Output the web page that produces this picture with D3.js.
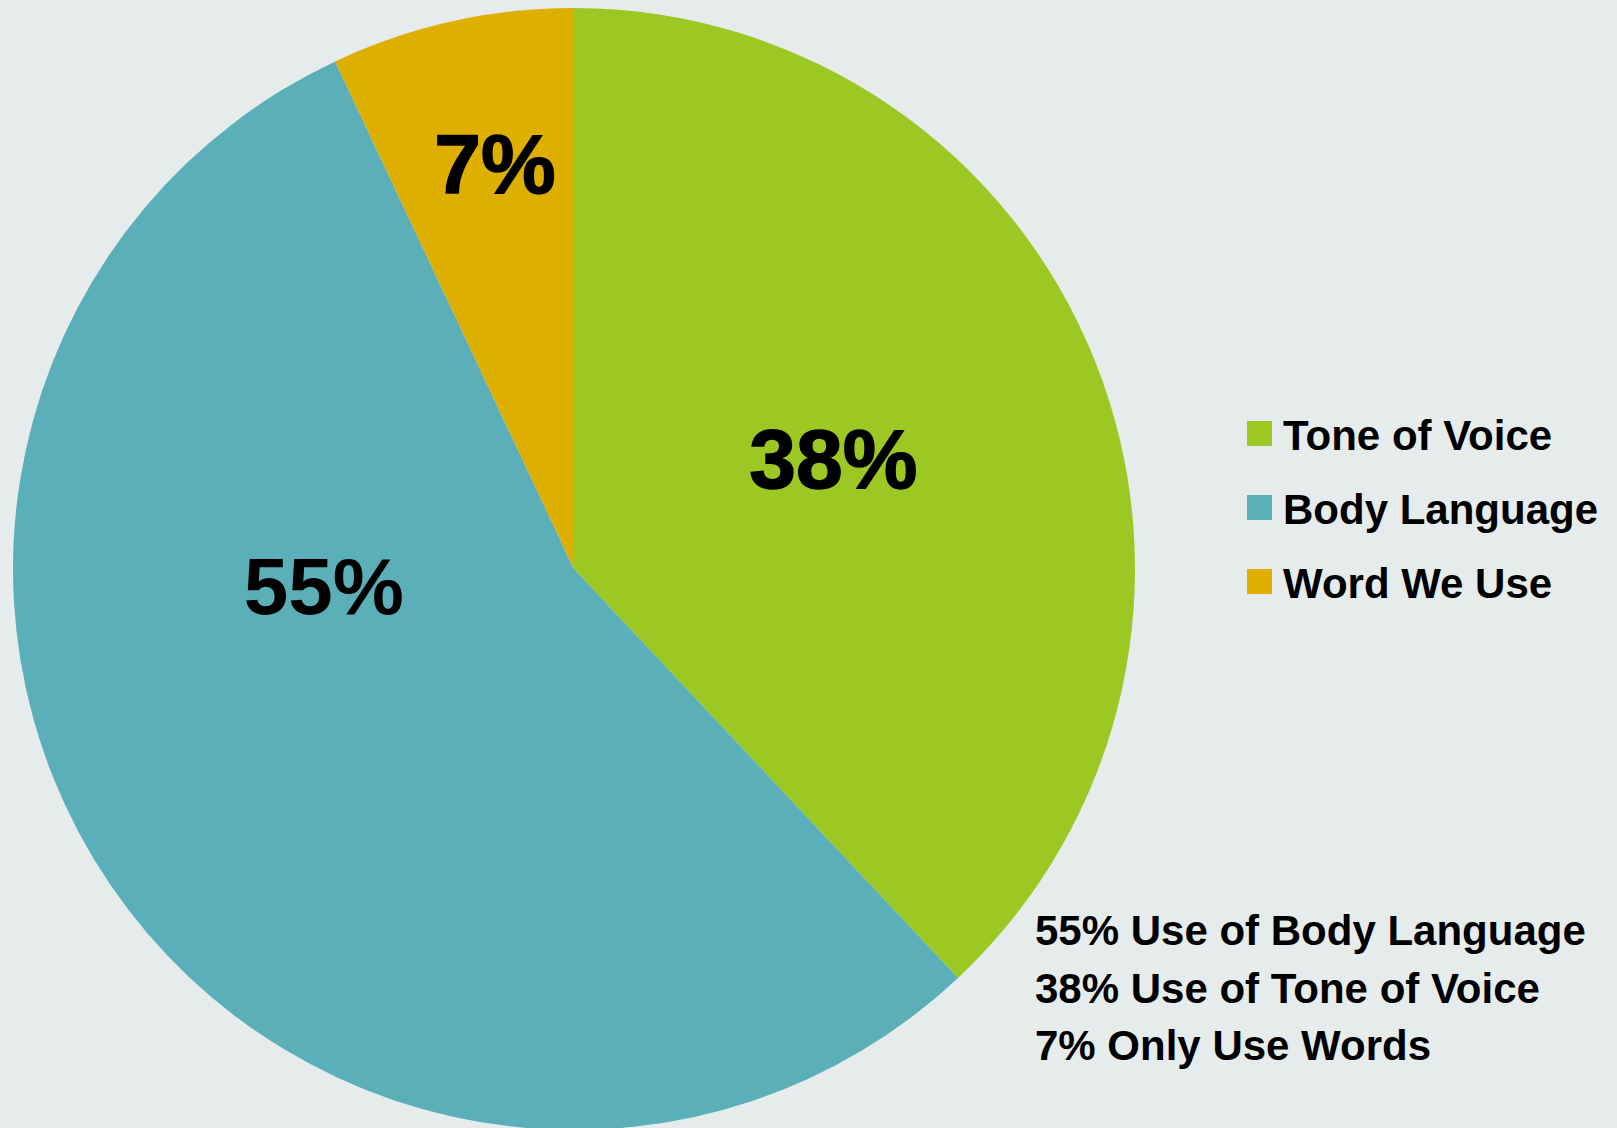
<!DOCTYPE html>
<html>
<head>
<meta charset="utf-8">
<script src="https://cdn.jsdelivr.net/npm/d3@7"></script>
<style>
  html, body { margin: 0; padding: 0; background: #e6ecec; }
  svg { display: block; }
</style>
</head>
<body>
<script>

var width = 1617,
    height = 1128;

// data
var categories = ["Tone of Voice", "Body Language", "Word We Use"];
var values = [38, 55, 7];
var colors = ["#9bc823", "#5bafb9", "#dfaf00"];
var notes = ["55% Use of Body Language", "38% Use of Tone of Voice", "7% Only Use Words"];

// where the % label sits inside each slice (fraction of radius, fraction of the slice angle)
var labelRadius = [0.503, 0.447, 0.737];
var labelAlong = [0.488, 0.654, 0.563];
var labelSize = [84, 80, 84];

var cx = 574, cy = 569, radius = 561;

var svg = d3.select("body").append("svg")
    .attr("width", width)
    .attr("height", height);

svg.append("rect")
    .attr("width", width)
    .attr("height", height)
    .attr("fill", "#e6ecec");

var data = categories.map(function(c, i) {
  return {name: c, value: values[i], color: colors[i]};
});

var pie = d3.pie()
    .sort(null)
    .value(function(d) { return d.value; });

var arc = d3.arc()
    .innerRadius(0)
    .outerRadius(radius);

var g = svg.append("g")
    .attr("transform", "translate(" + cx + "," + cy + ")");

var arcs = pie(data);

g.selectAll(".slice")
    .data(arcs)
  .enter().append("path")
    .attr("class", "slice")
    .attr("d", arc)
    .attr("fill", function(d) { return d.data.color; });

// percentage labels
g.selectAll(".pct")
    .data(arcs)
  .enter().append("text")
    .attr("class", "pct")
    .attr("transform", function(d, i) {
      var a = d.startAngle + (d.endAngle - d.startAngle) * labelAlong[i];
      var r = radius * labelRadius[i];
      return "translate(" + (Math.sin(a) * r) + "," + (-Math.cos(a) * r) + ")";
    })
    .attr("dy", "0.36em")
    .style("text-anchor", "middle")
    .style("font-family", "'Liberation Sans', Arial, sans-serif")
    .style("font-weight", "bold")
    .style("font-size", function(d, i) { return labelSize[i] + "px"; })
    .style("stroke", "#000")
    .style("stroke-width", function(d, i) { return i == 1 ? 0 : 1.5; })
    .style("fill", "#000")
    .text(function(d) { return d.data.value + "%"; });

// legend
var legend = svg.append("g")
    .attr("transform", "translate(1247,421)");

var item = legend.selectAll(".item")
    .data(data)
  .enter().append("g")
    .attr("class", "item")
    .attr("transform", function(d, i) { return "translate(0," + (i * 74) + ")"; });

item.append("rect")
    .attr("width", 25)
    .attr("height", 25)
    .attr("fill", function(d) { return d.color; });

item.append("text")
    .attr("x", 36)
    .attr("y", 29)
    .style("font-family", "'Liberation Sans', Arial, sans-serif")
    .style("font-weight", "bold")
    .style("font-size", "42px")
    .style("fill", "#000")
    .text(function(d) { return d.name; });

// notes below the legend
var noteText = svg.append("text")
    .attr("x", 1035)
    .attr("y", 945)
    .style("font-family", "'Liberation Sans', Arial, sans-serif")
    .style("font-weight", "bold")
    .style("font-size", "42px")
    .style("fill", "#000");

noteText.selectAll("tspan")
    .data(notes)
  .enter().append("tspan")
    .attr("x", 1035)
    .attr("dy", function(d, i) { return i == 0 ? 0 : 57.5; })
    .text(function(d) { return d; });

</script>
</body>
</html>
